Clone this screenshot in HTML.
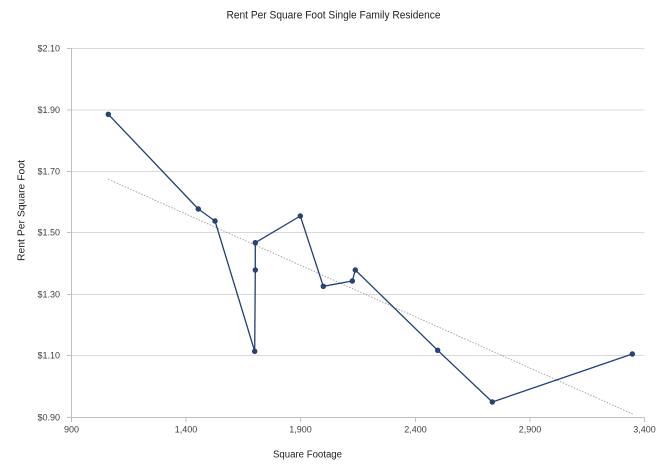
<!DOCTYPE html>
<html>
<head>
<meta charset="utf-8">
<style>
html,body{margin:0;padding:0;background:#fff;}
svg{display:block;}
text{font-family:"Liberation Sans",sans-serif;}
</style>
</head>
<body>
<svg width="660" height="464" viewBox="0 0 660 464" xmlns="http://www.w3.org/2000/svg">
<rect width="660" height="464" fill="#fff"/>
<text x="333.5" y="18.5" font-size="11" fill="#222" text-anchor="middle" textLength="214" lengthAdjust="spacingAndGlyphs">Rent Per Square Foot Single Family Residence</text>
<!-- gridlines -->
<g stroke="#d9d9d9" stroke-width="1">
<line x1="71.5" y1="48.5" x2="644.5" y2="48.5"/>
<line x1="71.5" y1="110" x2="644.5" y2="110"/>
<line x1="71.5" y1="171.5" x2="644.5" y2="171.5"/>
<line x1="71.5" y1="232.5" x2="644.5" y2="232.5"/>
<line x1="71.5" y1="294.5" x2="644.5" y2="294.5"/>
<line x1="71.5" y1="355.5" x2="644.5" y2="355.5"/>
</g>
<!-- axes -->
<g stroke="#bfbfbf" stroke-width="1">
<line x1="71.5" y1="48" x2="71.5" y2="417.5"/>
<line x1="71.5" y1="417.5" x2="644.5" y2="417.5"/>
<line x1="67" y1="48.5" x2="71.5" y2="48.5"/>
<line x1="67" y1="110" x2="71.5" y2="110"/>
<line x1="67" y1="171.5" x2="71.5" y2="171.5"/>
<line x1="67" y1="232.5" x2="71.5" y2="232.5"/>
<line x1="67" y1="294.5" x2="71.5" y2="294.5"/>
<line x1="67" y1="355.5" x2="71.5" y2="355.5"/>
<line x1="67" y1="417.5" x2="71.5" y2="417.5"/>
<line x1="71.5" y1="417.5" x2="71.5" y2="422"/>
<line x1="186" y1="417.5" x2="186" y2="422"/>
<line x1="300.5" y1="417.5" x2="300.5" y2="422"/>
<line x1="415.5" y1="417.5" x2="415.5" y2="422"/>
<line x1="530" y1="417.5" x2="530" y2="422"/>
<line x1="644.5" y1="417.5" x2="644.5" y2="422"/>
</g>
<!-- y labels -->
<g font-size="9" fill="#404040" text-anchor="end">
<text x="60" y="51.5">$2.10</text>
<text x="60" y="113">$1.90</text>
<text x="60" y="174.5">$1.70</text>
<text x="60" y="235.5">$1.50</text>
<text x="60" y="297.5">$1.30</text>
<text x="60" y="358.5">$1.10</text>
<text x="60" y="420.5">$0.90</text>
</g>
<!-- x labels -->
<g font-size="9" fill="#404040" text-anchor="middle">
<text x="71.5" y="432.5">900</text>
<text x="186" y="432.5">1,400</text>
<text x="300.5" y="432.5">1,900</text>
<text x="415.5" y="432.5">2,400</text>
<text x="530" y="432.5">2,900</text>
<text x="644.5" y="432.5">3,400</text>
</g>
<text x="307.5" y="457.5" font-size="10" fill="#222" text-anchor="middle" textLength="69" lengthAdjust="spacingAndGlyphs">Square Footage</text>
<text transform="translate(24.5,210.5) rotate(-90)" font-size="10" fill="#222" text-anchor="middle" textLength="101" lengthAdjust="spacingAndGlyphs">Rent Per Square Foot</text>
<!-- trendline -->
<line x1="108.3" y1="179.3" x2="632.7" y2="414" stroke="#a6a6a6" stroke-width="1" stroke-dasharray="1.5,1.5"/>
<!-- series -->
<polyline fill="none" stroke="#203f7a" stroke-width="1.3" stroke-linejoin="round" points="108.3,114.3 198.3,209 215,221 254.7,351.3 255.3,270 255.3,242.7 300.3,216 323.3,286.3 352.3,281 355.3,270 437.7,350.3 492.3,402 632.3,354"/>
<g fill="#2a4576" stroke="#1f3864" stroke-width="0.8">
<circle cx="108.3" cy="114.3" r="2.3"/>
<circle cx="198.3" cy="209" r="2.3"/>
<circle cx="215" cy="221" r="2.3"/>
<circle cx="254.7" cy="351.3" r="2.3"/>
<circle cx="255.3" cy="270" r="2.3"/>
<circle cx="255.3" cy="242.7" r="2.3"/>
<circle cx="300.3" cy="216" r="2.3"/>
<circle cx="323.3" cy="286.3" r="2.3"/>
<circle cx="352.3" cy="281" r="2.3"/>
<circle cx="355.3" cy="270" r="2.3"/>
<circle cx="437.7" cy="350.3" r="2.3"/>
<circle cx="492.3" cy="402" r="2.3"/>
<circle cx="632.3" cy="354" r="2.3"/>
</g>
</svg>
</body>
</html>
